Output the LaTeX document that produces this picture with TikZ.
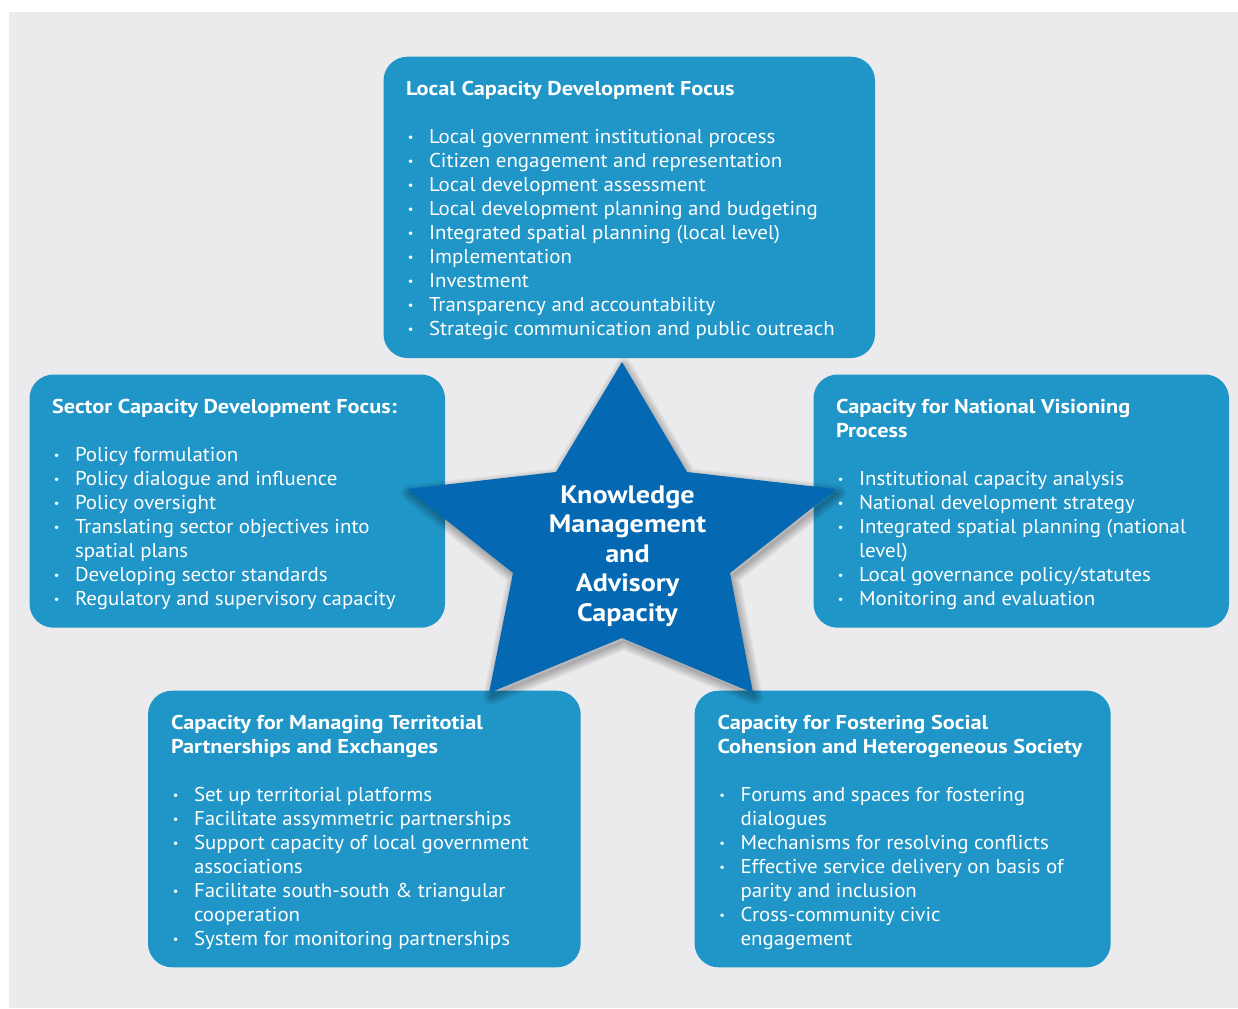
\documentclass[tikz,border=0pt]{standalone}
\usepackage{fontspec}
\setmainfont{PT Sans}[FakeStretch=1.046, BoldFeatures={FakeStretch=1.116}]
\usetikzlibrary{fit}
\definecolor{bgGray}{RGB}{235,235,237}
\definecolor{boxBlue}{RGB}{32,149,199}
\definecolor{starBlue}{RGB}{4,105,178}

\newcommand{\bitem}[1]{\par\hangindent=11.5pt\hangafter=1\noindent\makebox[11.5pt][l]{\hspace{0.9pt}\raisebox{0.9pt}{\fontsize{6}{6}\selectfont •}}#1}
\newcommand{\btitle}[1]{\noindent{\bfseries #1}\par\vspace{12pt}}
\newcommand{\txtblock}[1]{\parbox[t]{250pt}{\fontsize{10}{12}\selectfont\raggedright #1}}
\newcommand{\starpath}{(622,362) -- (687,472) -- (836,489) -- (730,573) -- (753,693) -- (622,638) -- (489,693) -- (513,573) -- (407,489) -- (556,472) -- cycle}

\tikzset{
  cbox/.style={fill=boxBlue, draw=none, rounded corners=12pt, inner sep=0pt, outer sep=0pt},
  txt/.style={text=white, inner sep=0pt, outer sep=0pt, anchor=base west},
  startxt/.style={text=white, inner sep=0pt, anchor=base, font=\fontsize{12.6}{14.75}\selectfont\bfseries}
}

\begin{document}
\begin{tikzpicture}[x=0.5pt, y=-0.5pt]
\useasboundingbox (0,0) rectangle (1238,1008);
\fill[white] (0,0) rectangle (1238,1008);
\fill[bgGray] (9,12) rectangle (1238,1008);

% boxes
\node[cbox, fit={(383.5,56.7) (875,358)}] (top) {};
\node[cbox, fit={(29.5,374.5) (445,627.7)}] (left) {};
\node[cbox, fit={(813.5,374.5) (1229,627.7)}] (right) {};
\node[cbox, fit={(148,690.7) (580.7,967.3)}] (bl) {};
\node[cbox, fit={(694.5,690.7) (1110.7,967.3)}] (br) {};

% texts
\node[txt] (topT) at (406,95) {\txtblock{%
\btitle{Local Capacity Development Focus}
\bitem{Local government institutional process}
\bitem{Citizen engagement and representation}
\bitem{Local development assessment}
\bitem{Local development planning and budgeting}
\bitem{Integrated spatial planning (local level)}
\bitem{Implementation}
\bitem{Investment}
\bitem{Transparency and accountability}
\bitem{Strategic communication and public outreach}}};

\node[txt] (leftT) at (52,413) {\txtblock{%
\btitle{Sector Capacity Development Focus:}
\bitem{Policy formulation}
\bitem{Policy dialogue and influence}
\bitem{Policy oversight}
\bitem{Translating sector objectives into\newline spatial plans}
\bitem{Developing sector standards}
\bitem{Regulatory and supervisory capacity}}};

\node[txt] (rightT) at (836,413) {\txtblock{%
\btitle{Capacity for National Visioning\newline Process}
\bitem{Institutional capacity analysis}
\bitem{National development strategy}
\bitem{Integrated spatial planning (national\newline level)}
\bitem{Local governance policy/statutes}
\bitem{Monitoring and evaluation}}};

\node[txt] (blT) at (171,729.3) {\txtblock{%
\btitle{Capacity for Managing Territotial\newline Partnerships and Exchanges}
\bitem{Set up territorial platforms}
\bitem{Facilitate assymmetric partnerships}
\bitem{Support capacity of local government\newline associations}
\bitem{Facilitate south-south \& triangular\newline cooperation}
\bitem{System for monitoring partnerships}}};

\node[txt] (brT) at (717.5,729.3) {\txtblock{%
\btitle{Capacity for Fostering Social\newline Cohension and Heterogeneous Society}
\bitem{Forums and spaces for fostering\newline dialogues}
\bitem{Mechanisms for resolving conflicts}
\bitem{Effective service delivery on basis of\newline parity and inclusion}
\bitem{Cross-community civic\newline engagement}}};

% star shadow
\begin{scope}[shift={(2,4)}, line join=round]
\foreach \w in {1,2,...,8}{
  \draw[black, opacity=0.03, line width=\w pt] \starpath;
}
\fill[black, opacity=0.06] \starpath;
\end{scope}
% star
\fill[starBlue] \starpath;
\node[startxt] (star) at (627.5,503) {\parbox[t]{100pt}{\centering Knowledge\\Management\\and\\Advisory\\Capacity}};
\end{tikzpicture}
\end{document}
